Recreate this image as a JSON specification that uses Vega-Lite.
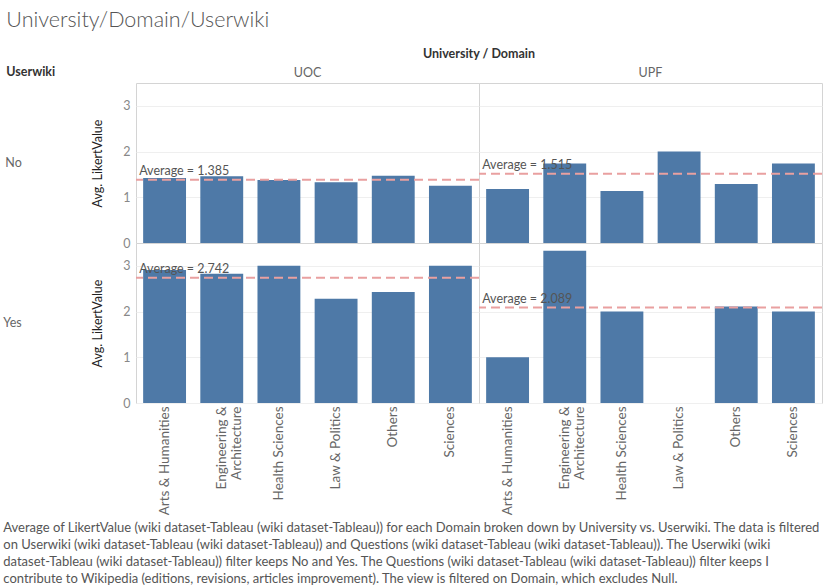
{
  "$schema": "https://vega.github.io/schema/vega-lite/v6.json",
  "padding": {"left": 3, "top": 9, "right": 0, "bottom": 0},
  "background": "white",
  "title": {
    "text": "University/Domain/Userwiki", "anchor": "start", "font": "Lato", "fontSize": 21.5, "fontWeight": 300, "color": "#555555",
    "subtitle": "Userwiki", "subtitleFont": "Lato", "subtitleFontSize": 12.5, "subtitleFontWeight": "bold", "subtitleColor": "#333333",
    "subtitlePadding": 35, "offset": -31, "dx": 3
  },
  "config": {
    "font": "Lato",
    "view": {"stroke": "#d4d4d4", "strokeWidth": 1},
    "axis": {"labelFont": "Lato", "titleFont": "Lato"}
  },
  "vconcat": [
    {
      "title": {
        "text": [
          "Average of LikertValue (wiki dataset-Tableau (wiki dataset-Tableau)) for each Domain broken down by University vs. Userwiki. The data is filtered",
          "on Userwiki (wiki dataset-Tableau (wiki dataset-Tableau)) and Questions (wiki dataset-Tableau (wiki dataset-Tableau)). The Userwiki (wiki",
          "dataset-Tableau (wiki dataset-Tableau)) filter keeps No and Yes. The Questions (wiki dataset-Tableau (wiki dataset-Tableau)) filter keeps I",
          "contribute to Wikipedia (editions, revisions, articles improvement). The view is filtered on Domain, which excludes Null."
        ],
        "orient": "bottom",
        "anchor": "start",
        "frame": "bounds",
        "font": "Lato",
        "fontSize": 13,
        "fontWeight": "normal",
        "color": "#555555",
        "lineHeight": 17.2,
        "offset": 7
      },
      "data": {
        "values": [
          {"University": "UOC", "Userwiki": "No", "Domain": "Arts & Humanities", "value": 1.42},
          {"University": "UOC", "Userwiki": "No", "Domain": "Engineering & Architecture", "value": 1.46},
          {"University": "UOC", "Userwiki": "No", "Domain": "Health Sciences", "value": 1.38},
          {"University": "UOC", "Userwiki": "No", "Domain": "Law & Politics", "value": 1.33},
          {"University": "UOC", "Userwiki": "No", "Domain": "Others", "value": 1.47},
          {"University": "UOC", "Userwiki": "No", "Domain": "Sciences", "value": 1.25},
          {"University": "UPF", "Userwiki": "No", "Domain": "Arts & Humanities", "value": 1.18},
          {"University": "UPF", "Userwiki": "No", "Domain": "Engineering & Architecture", "value": 1.74},
          {"University": "UPF", "Userwiki": "No", "Domain": "Health Sciences", "value": 1.14},
          {"University": "UPF", "Userwiki": "No", "Domain": "Law & Politics", "value": 2.0},
          {"University": "UPF", "Userwiki": "No", "Domain": "Others", "value": 1.29},
          {"University": "UPF", "Userwiki": "No", "Domain": "Sciences", "value": 1.74},
          {"University": "UOC", "Userwiki": "Yes", "Domain": "Arts & Humanities", "value": 2.91},
          {"University": "UOC", "Userwiki": "Yes", "Domain": "Engineering & Architecture", "value": 2.83},
          {"University": "UOC", "Userwiki": "Yes", "Domain": "Health Sciences", "value": 3.0},
          {"University": "UOC", "Userwiki": "Yes", "Domain": "Law & Politics", "value": 2.28},
          {"University": "UOC", "Userwiki": "Yes", "Domain": "Others", "value": 2.43},
          {"University": "UOC", "Userwiki": "Yes", "Domain": "Sciences", "value": 3.0},
          {"University": "UPF", "Userwiki": "Yes", "Domain": "Arts & Humanities", "value": 1.0},
          {"University": "UPF", "Userwiki": "Yes", "Domain": "Engineering & Architecture", "value": 3.333},
          {"University": "UPF", "Userwiki": "Yes", "Domain": "Health Sciences", "value": 2.0},
          {"University": "UPF", "Userwiki": "Yes", "Domain": "Others", "value": 2.111},
          {"University": "UPF", "Userwiki": "Yes", "Domain": "Sciences", "value": 2.0}
        ]
      },
      "facet": {
        "row": {
          "field": "Userwiki", "type": "nominal", "sort": ["No", "Yes"],
          "header": {
            "title": null,
            "labelAngle": 0, "labelAlign": "left", "labelPadding": 70,
            "labelFont": "Lato", "labelFontSize": 12.5, "labelColor": "#666666"
          }
        },
        "column": {
          "field": "University", "type": "nominal", "sort": ["UOC", "UPF"],
          "header": {
            "title": "University / Domain", "titleFont": "Lato", "titleFontSize": 12.5, "titleFontWeight": "bold",
            "titleColor": "#333333", "titlePadding": -4,
            "labelFont": "Lato", "labelFontSize": 12.5, "labelColor": "#666666", "labelPadding": 4
          }
        }
      },
      "bounds": "flush",
      "spacing": {"row": 0, "column": 0},
      "spec": {
        "width": 343,
        "height": 160,
        "layer": [
          {
            "mark": {"type": "bar", "color": "#4e79a7"},
            "encoding": {
              "x": {
                "field": "Domain", "type": "nominal",
                "sort": ["Arts & Humanities", "Engineering & Architecture", "Health Sciences", "Law & Politics", "Others", "Sciences"],
                "scale": {"paddingInner": 0.25, "paddingOuter": 0.125},
                "axis": {
                  "title": null, "labelAngle": -90, "ticks": false, "domain": false, "labelPadding": 3,
                  "labelColor": "#666666", "labelFontSize": 13.5, "labelLineHeight": 15, "labelLimit": 200,
                  "labelExpr": "datum.value == 'Engineering & Architecture' ? ['Engineering &', 'Architecture'] : datum.value"
                }
              },
              "y": {
                "field": "value", "type": "quantitative",
                "scale": {"domain": [0, 3.5], "nice": false},
                "axis": {
                  "title": "Avg. LikertValue", "values": [0, 1, 2, 3], "ticks": false, "domain": false,
                  "gridColor": "#efefef", "labelColor": "#888888", "labelFontSize": 12.5, "labelPadding": 6,
                  "titleColor": "#222222", "titleFontSize": 12.5, "titleFontWeight": "normal", "titlePadding": 18
                }
              }
            }
          },
          {
            "transform": [{"aggregate": [{"op": "mean", "field": "value", "as": "avg"}]}],
            "mark": {"type": "rule", "color": "#e9a0a0", "strokeWidth": 2, "strokeDash": [9, 5]},
            "encoding": {"y": {"field": "avg", "type": "quantitative"}}
          },
          {
            "transform": [
              {"aggregate": [{"op": "mean", "field": "value", "as": "avg"}]},
              {"calculate": "'Average = ' + format(datum.avg, '.3f')", "as": "label"}
            ],
            "mark": {"type": "text", "align": "left", "baseline": "bottom", "dx": -4, "dy": -2, "fontSize": 12.5, "color": "#555555", "font": "Lato"},
            "encoding": {
              "x": {"datum": "Arts & Humanities", "type": "nominal", "bandPosition": 0},
              "y": {"field": "avg", "type": "quantitative"},
              "text": {"field": "label"}
            }
          }
        ]
      }
    }
  ]
}
